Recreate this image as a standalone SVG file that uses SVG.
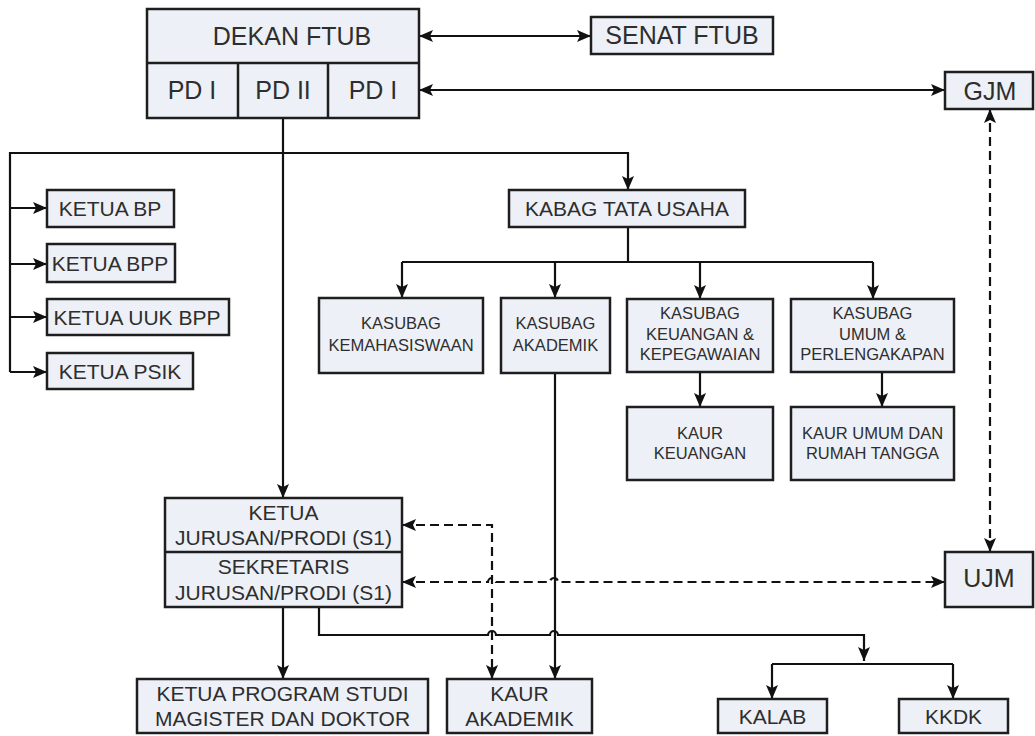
<svg xmlns="http://www.w3.org/2000/svg" width="1035" height="736" viewBox="0 0 1035 736">
<defs>
<style>
.box{fill:#edf0f6;stroke:#1e1e1e;stroke-width:2.5}
.div{stroke:#1e1e1e;stroke-width:2.5}
.t{font-family:"Liberation Sans",Arial,sans-serif;fill:#2e2e2e;text-anchor:middle}
.L{font-size:25px}
.M{font-size:21px}
.S{font-size:16.5px}
.ln{fill:none;stroke:#111;stroke-width:2.2}
.ds{fill:none;stroke:#111;stroke-width:2.2;stroke-dasharray:9,5}
.a1{marker-end:url(#ah)}
.a2{marker-start:url(#ah);marker-end:url(#ah)}
</style>
<marker id="ah" viewBox="0 0 14 12" refX="14" refY="6" markerWidth="14" markerHeight="12" markerUnits="userSpaceOnUse" orient="auto-start-reverse">
<path d="M0,0 L14,6 L0,12 L3,6 z" fill="#111"/>
</marker>
</defs>
<rect width="1035" height="736" fill="#fff"/>

<g id="connectors">
<path class="ln a2" d="M419,36 H591"/>
<path class="ln a2" d="M419,90 H945"/>
<path class="ln a1" d="M283,118 V498"/>
<path class="ln a1" d="M10,372 V153 H628 V190"/>
<path class="ln a1" d="M10,208 H47"/>
<path class="ln a1" d="M10,264 H47"/>
<path class="ln a1" d="M10,317 H47"/>
<path class="ln a1" d="M10,372 H47"/>
<path class="ln" d="M628,227 V262 M402,262 H873"/>
<path class="ln a1" d="M402,262 V298"/>
<path class="ln a1" d="M555,262 V298"/>
<path class="ln a1" d="M700,262 V299"/>
<path class="ln a1" d="M873,262 V299"/>
<path class="ln a1" d="M700,372 V407"/>
<path class="ln a1" d="M882,372 V407"/>
<path class="ln a1" d="M555,373 V679"/>
<path class="ln a1" d="M283,607 V679"/>
<path class="ln a1" d="M319,607 V635 H488 a4,4 0 0 1 8,0 H550 a4,4 0 0 1 8,0 H864 V661"/>
<path class="ln" d="M772,664 H953"/>
<path class="ln a1" d="M772,664 V699"/>
<path class="ln a1" d="M953,664 V699"/>
<path class="ds a2" d="M402,525 H492 V679"/>
<path class="ds a2" d="M402,582 H488 a4,4 0 0 1 8,0 H550 a4,4 0 0 1 8,0 H945"/>
<path class="ds a2" d="M990,109 V552"/>
</g>

<g id="dekan">
<rect class="box" x="147" y="9" width="272" height="109"/>
<path class="div" d="M147,63 H419 M238,63 V118 M328,63 V118"/>
<text class="t L" x="292" y="45">DEKAN FTUB</text>
<text class="t L" x="192" y="99">PD I</text>
<text class="t L" x="283" y="99">PD II</text>
<text class="t L" x="373" y="99">PD I</text>
</g>
<g id="senat">
<rect class="box" x="591" y="17" width="182" height="37"/>
<text class="t L" x="682" y="44">SENAT FTUB</text>
</g>
<g id="gjm">
<rect class="box" x="945" y="72" width="88" height="37"/>
<text class="t L" x="990" y="99.5">GJM</text>
</g>
<g id="ketua-bp">
<rect class="box" x="47" y="190" width="127" height="37"/>
<text class="t M" x="110" y="216">KETUA BP</text>
</g>
<g id="ketua-bpp">
<rect class="box" x="47" y="244" width="128" height="38"/>
<text class="t M" x="110" y="271">KETUA BPP</text>
</g>
<g id="ketua-uuk-bpp">
<rect class="box" x="47" y="299" width="182" height="36"/>
<text class="t M" x="137" y="325">KETUA UUK BPP</text>
</g>
<g id="ketua-psik">
<rect class="box" x="47" y="353" width="146" height="36"/>
<text class="t M" x="120" y="379">KETUA PSIK</text>
</g>
<g id="kabag">
<rect class="box" x="509" y="190" width="236" height="37"/>
<text class="t M" x="627" y="216">KABAG TATA USAHA</text>
</g>
<g id="kasubag-kemahasiswaan">
<rect class="box" x="319" y="298" width="164" height="75"/>
<text class="t S" x="401" y="329">KASUBAG</text>
<text class="t S" x="401" y="351">KEMAHASISWAAN</text>
</g>
<g id="kasubag-akademik">
<rect class="box" x="501" y="298" width="109" height="75"/>
<text class="t S" x="555.5" y="329">KASUBAG</text>
<text class="t S" x="555.5" y="351">AKADEMIK</text>
</g>
<g id="kasubag-keuangan">
<rect class="box" x="627" y="299" width="146" height="73"/>
<text class="t S" x="700" y="319">KASUBAG</text>
<text class="t S" x="700" y="340">KEUANGAN &amp;</text>
<text class="t S" x="700" y="360">KEPEGAWAIAN</text>
</g>
<g id="kasubag-umum">
<rect class="box" x="791" y="299" width="163" height="73"/>
<text class="t S" x="872.5" y="319">KASUBAG</text>
<text class="t S" x="872.5" y="340">UMUM &amp;</text>
<text class="t S" x="872.5" y="360">PERLENGAKAPAN</text>
</g>
<g id="kaur-keuangan">
<rect class="box" x="627" y="407" width="146" height="73"/>
<text class="t S" x="700" y="439">KAUR</text>
<text class="t S" x="700" y="459">KEUANGAN</text>
</g>
<g id="kaur-umum">
<rect class="box" x="791" y="407" width="163" height="73"/>
<text class="t S" x="872.5" y="439">KAUR UMUM DAN</text>
<text class="t S" x="872.5" y="459">RUMAH TANGGA</text>
</g>
<g id="ketua-jurusan">
<rect class="box" x="165" y="498" width="237" height="109"/>
<path class="div" d="M165,552 H402"/>
<text class="t M" x="283.5" y="519.5">KETUA</text>
<text class="t M" x="283.5" y="544.5">JURUSAN/PRODI (S1)</text>
<text class="t M" x="283.5" y="573.5">SEKRETARIS</text>
<text class="t M" x="283.5" y="599.5">JURUSAN/PRODI (S1)</text>
</g>
<g id="ujm">
<rect class="box" x="945" y="552" width="88" height="55"/>
<text class="t L" x="989" y="587">UJM</text>
</g>
<g id="ketua-program-studi">
<rect class="box" x="137" y="679" width="291" height="54"/>
<text class="t M" x="282.5" y="700.5">KETUA PROGRAM STUDI</text>
<text class="t M" x="282.5" y="725.5">MAGISTER DAN DOKTOR</text>
</g>
<g id="kaur-akademik">
<rect class="box" x="447" y="679" width="145" height="54"/>
<text class="t M" x="519.5" y="700.5">KAUR</text>
<text class="t M" x="519.5" y="725.5">AKADEMIK</text>
</g>
<g id="kalab">
<rect class="box" x="718" y="699" width="109" height="34"/>
<text class="t M" x="772.5" y="723.5">KALAB</text>
</g>
<g id="kkdk">
<rect class="box" x="899" y="699" width="109" height="34"/>
<text class="t M" x="953.5" y="723.5">KKDK</text>
</g>
</svg>
